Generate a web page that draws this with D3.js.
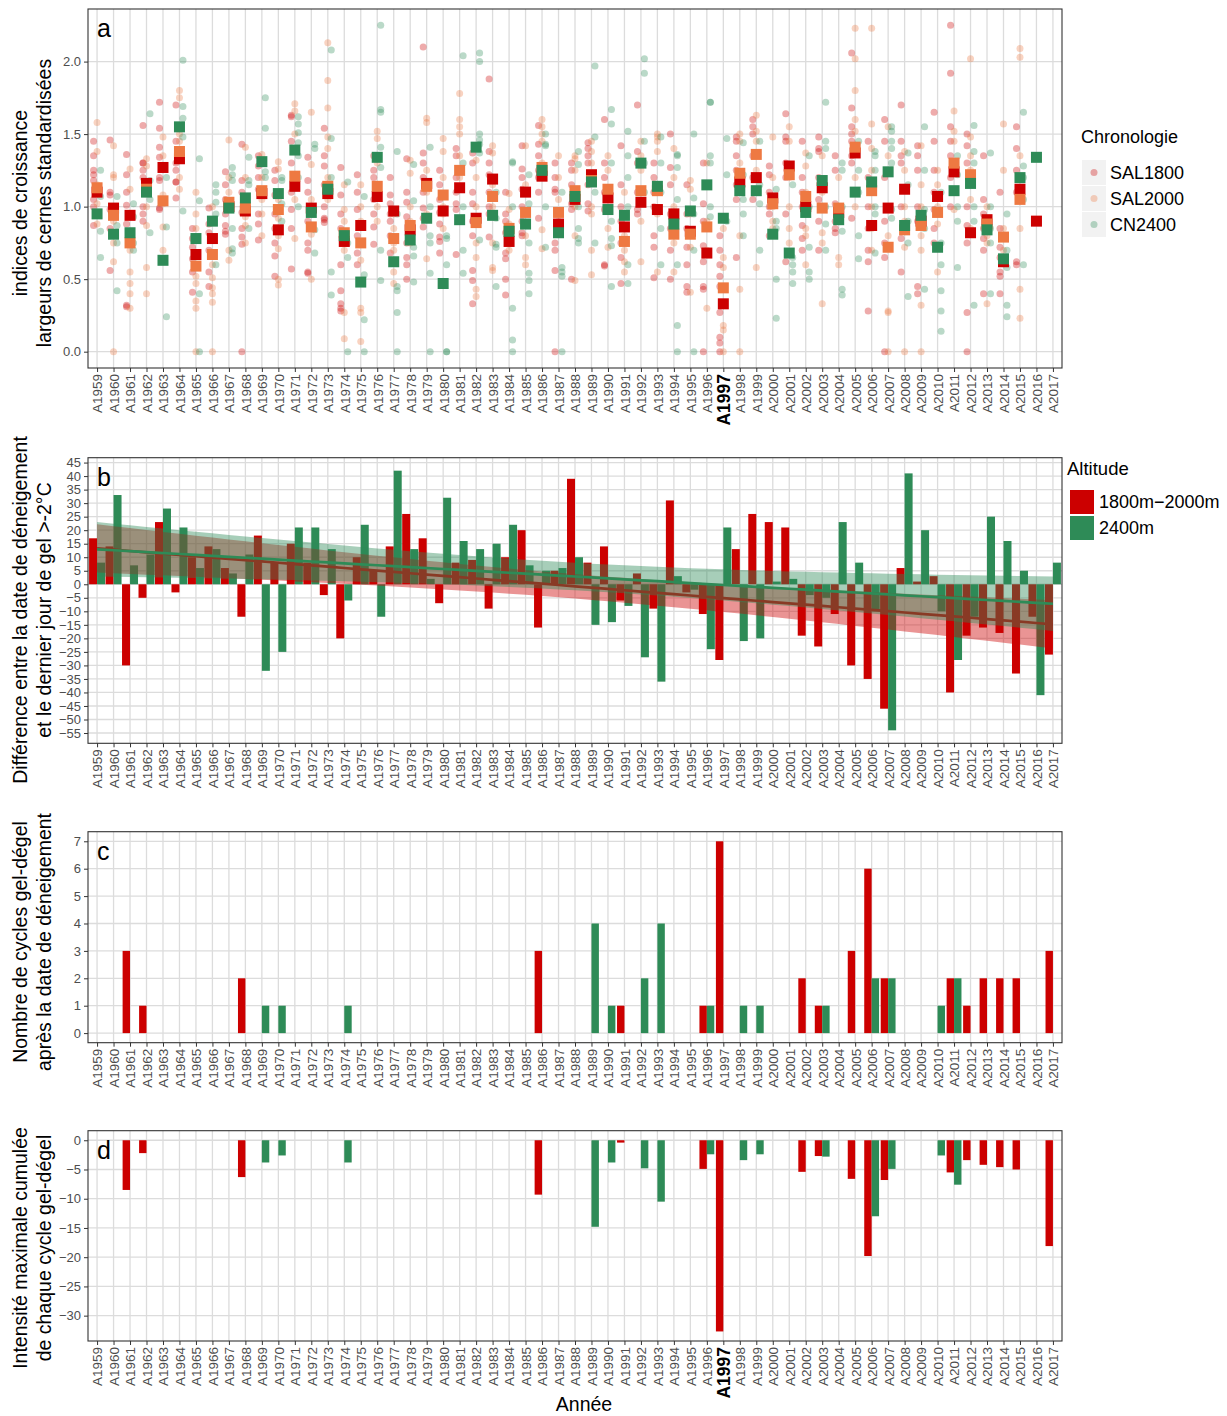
<!DOCTYPE html>
<html>
<head>
<meta charset="utf-8">
<script src="https://cdn.jsdelivr.net/npm/d3@7"></script>
<style>
  body { margin: 0; background: #fff; }
  svg { display: block; }
</style>
</head>
<body>
<svg id="fig" width="1227" height="1416"></svg>
<script>
// ---------------------------------------------------------------------------
// Data
// ---------------------------------------------------------------------------
const years = [1959,1960,1961,1962,1963,1964,1965,1966,1967,1968,
               1969,1970,1971,1972,1973,1974,1975,1976,1977,1978,
               1979,1980,1981,1982,1983,1984,1985,1986,1987,1988,
               1989,1990,1991,1992,1993,1994,1995,1996,1997,1998,
               1999,2000,2001,2002,2003,2004,2005,2006,2007,2008,
               2009,2010,2011,2012,2013,2014,2015,2016,2017];

const chronologies = ["SAL1800", "SAL2000", "CN2400"];
const altitudes = ["1800m\u22122000m", "2400m"];

// (a) mean standardised ring-width index per chronology (null = no data)
const meanSAL1800 = [1.10,0.99,0.94,1.16,1.27,1.33,0.67,0.78,1.00,0.97,
                     1.09,0.84,1.14,0.99,1.09,0.76,0.87,1.07,0.97,0.84,
                     1.16,0.97,1.13,0.92,1.19,0.76,1.10,1.21,0.88,1.05,
                     1.22,1.06,0.86,1.03,0.98,0.95,0.83,0.68,0.33,1.17,
                     1.20,1.06,1.28,1.00,1.13,0.96,1.37,0.87,0.99,1.12,
                     0.90,1.07,1.24,0.82,0.91,0.62,1.12,0.90,null];
const meanSAL2000 = [1.13,0.94,0.75,1.12,1.04,1.38,0.59,0.67,1.03,0.99,
                     1.11,0.98,1.21,0.86,1.14,0.82,0.75,1.14,0.78,0.87,
                     1.14,1.08,1.25,0.89,1.07,0.85,0.96,1.27,0.96,1.11,
                     1.18,1.12,0.76,1.11,1.11,0.81,0.81,0.86,0.44,1.23,
                     1.36,1.02,1.22,1.07,0.99,0.99,1.41,1.11,0.72,0.84,
                     0.87,0.96,1.30,1.22,0.88,0.79,1.05,null,null];
const meanCN2400  = [0.95,0.81,0.82,1.10,0.63,1.55,0.78,0.90,0.99,1.06,
                     1.31,1.09,1.39,0.96,1.12,0.80,0.48,1.34,0.62,0.77,
                     0.92,0.47,0.91,1.41,0.94,0.83,0.88,1.25,0.82,1.07,
                     1.17,0.98,0.94,1.30,1.14,0.88,0.97,1.15,0.92,1.11,
                     1.11,0.81,0.68,0.96,1.18,0.91,1.10,1.17,1.24,0.87,
                     0.94,0.72,1.11,1.16,0.84,0.64,1.20,1.34,null];

// (a) individual tree indices, x100, one "|" group per year
const treesSAL1800 = "145 135 125 122 118 105 100 87|146 110 108 98 85 56|136 122 110 101 88 32 31|156 130 130 125 120 100 95 90|172 154 141 134 120 118 99 98|170 145 130 125 117 117 106|85 78 72 64 55 41|99 88 82 70 55 45|124 115 105 95 87 83 81|143 118 110 96 85 79 74 0|135 128 120 112 95 88 77|125 118 108 95 85 75 66 52|163 162 145 130 110 98 85 57|134 118 110 90 75 70 55 54|154 135 128 115 100 92 91 89|127 108 95 85 60 42 33 30 28|122 110 98 80 68 60|135 125 120 105 95 86 74|120 108 102 95 90 80 68|133 110 103 93 75 65 60 50|210 137 130 120 110 99 92 86|125 115 105 96 88 79 76 68|140 135 120 110 102 98 67|137 130 110 102 90 80 56 49 33|188 138 130 122 110 100 95 79|110 95 90 82 68 64 50 39|142 126 120 112 100 90 82 80|156 143 135 125 120 110 92|130 120 112 110 75 70 56 0|130 125 115 102 98 50|144 140 135 130 115 102 97|160 130 120 110 98 60 59|142 115 100 90 75 65 47|170 138 130 110 98 95|130 120 110 100 80 72 51|150 127 115 95 85 70 50|115 95 85 72 60 45 41|130 102 90 73 62 45 43 0|80 70 60 52 45 27 10 6 0|148 145 135 125 115 105 65|160 155 150 135 120 105|128 122 110 100 95 80|164 148 145 130 120 95 62|145 120 110 100 87 78 70|148 140 138 120 105 90 70|135 125 102 90 85 82|206 168 155 150 145 135 130 92|145 120 100 85 70 62 28|160 145 120 90 75 65 0|170 145 135 130 100 78 55|142 135 125 100 90 45 40|165 145 125 110 98 85 75|225 192 155 145 135 120 100|150 142 130 100 87 75 27 0|135 105 95 85 78 70 40|110 85 72 65 55 52 40|155 140 125 110 62 60||";
const treesSAL2000 = "158 138 115 102 95 88|142 122 120 90 75 62 0|126 112 70 55 47 40 30|133 128 110 100 87 58 40|148 135 108 102 86 70|180 175 150 145 120 112|110 95 85 52 47 35 30 0|100 90 60 51 44 40 34 0|146 120 110 98 70 63|141 120 105 93 87 75|136 130 120 105 95 80|131 126 105 92 80 71 50 46|171 166 150 122 105 78|165 129 105 98 81 50|213 187 168 148 140 120 105|115 98 90 80 70 27 9|115 100 90 63 30 27 7|152 147 130 115 100 90|95 85 75 70 55 47|132 123 100 90 80 75|161 158 125 115 110 95 64|147 138 120 100 95 85|178 160 155 150 135 120|132 120 100 75 65 43 38|142 137 115 100 75 58 56|109 98 88 80 70|142 115 95 80 65 60|160 155 150 145 130 120 84 71|135 120 105 90|135 133 125 100 80 49|145 138 130 100 95 70 53|135 125 110 85 72|110 95 80 70 62 55|145 135 125 90 62|150 148 145 138 115 95 55|140 120 100 85 75 55|118 112 95 80 72 41|130 115 90 70 30|85 65 58 43 18 15 0|150 145 130 120 80 43 0|163 152 145 125 58|148 120 100 90 85|155 145 120 100 85 75|137 128 110 85 80 60|135 110 100 82 75 33|120 100 95 65 60|223 202 180 160 152 120 100|223 157 140 125 100 85 70|155 135 100 80 28 27 0|138 125 100 90 72 0|142 115 100 80 70 32 0|125 115 100 88 55|166 152 145 130 110 98|202 148 135 125 105 85|100 90 80 75 33|157 125 85 78 70|209 203 135 120 85 43 23||";
const treesCN2400 = "125 107 83 65|107 87 75 42|102 93 75 70|164 118 105 82|120 86 24|201 169 161 148 97|133 104 40 0|115 110 103 95 60|127 122 118 85 71 68|134 118 115 85|175 154 124 120|120 118 102 90|162 157 151 144 135 120 100|143 140 84 68|208 147 120 55 39|117 75 65 0|107 53 22 0|225 167 165 141 127 70 49|138 95 45 42 27 0|129 104 72 66 48|141 100 80 75 54 0|80 78 60 0 0|204 130 100 70 54|206 200 150 146 143 137 77|110 92 74 72 45|131 130 100 30 8 0|122 102 75 54 49 40|150 143 142 100 72|110 58 55 52 0|138 129 100 85 78 75|197 148 110 75|167 157 130 90 78 73 45|152 135 120 100 60 47|202 192 145 130 110|148 130 110 85 60|136 135 127 105 60 18 0|150 106 95 70 0|172 172 135 130 100 93|147 122 90|144 122 105 95 80|145 115 102 70|112 90 85 50 23|115 65 60 55 47|135 100 72 55 50|172 145 140 100 88 70|130 125 100 83 43 39|145 125 110 80 64|138 135 125 100 95 68|155 152 145 140 130 98 92|137 115 90 75 38|155 125 98 85 43|110 75 60 42 28 14|135 122 100 90 58|156 138 130 100 90 32|137 100 85 75 40|95 70 58 32 24|165 128 120 105 60||";

// (b) days between snow-melt date and last frost day (> -2 °C)
const diff1800 = [17,14,-30,-5,23,-3,10,14,6,-12,
                  18,8,15,8,-4,-20,10,5,14,26,
                  17,-7,8,9,-9,10,20,-16,5,39,
                  8,14,-6,4,-9,31,-3,-11,-28,13,
                  26,23,21,-19,-23,-11,-30,-35,-46,6,
                  1,3,-40,-19,-16,-18,-33,-12,-26];
const diff2400 = [8,33,7,11,28,21,6,13,4,11,
                  -32,-25,21,21,13,-6,22,-12,42,13,
                  2,32,16,13,15,22,7,5,6,10,
                  -15,-14,-8,-27,-36,3,-2,-24,21,-21,
                  -20,1,2,-4,-5,23,8,-10,-54,41,
                  20,-10,-28,-12,25,16,5,-41,8];

// (c) number of freeze-thaw cycles after snow melt
const cycles1800 = [0,0,3,1,0,0,0,0,0,2, 0,0,0,0,0,0,0,0,0,0,
                    0,0,0,0,0,0,0,3,0,0, 0,0,1,0,0,0,0,1,7,0,
                    0,0,0,2,1,0,3,6,2,0, 0,0,2,1,2,2,2,0,3];
const cycles2400 = [0,0,0,0,0,0,0,0,0,0, 1,1,0,0,0,1,0,0,0,0,
                    0,0,0,0,0,0,0,0,0,0, 4,1,0,2,4,0,0,1,0,1,
                    1,0,0,0,1,0,0,2,2,0, 0,1,2,0,0,0,0,0,0];

// (d) maximum cumulated intensity of the freeze-thaw cycles
const intensity1800 = [0,0,-8.5,-2.2,0,0,0,0,0,-6.3, 0,0,0,0,0,0,0,0,0,0,
                       0,0,0,0,0,0,0,-9.3,0,0, 0,0,-0.4,0,0,0,0,-4.9,-32.7,0,
                       0,0,0,-5.4,-2.7,0,-6.6,-19.8,-6.8,0, 0,0,-5.5,-3.4,-4.2,-4.6,-5.0,0,-18.1];
const intensity2400 = [0,0,0,0,0,0,0,0,0,0, -3.8,-2.6,0,0,0,-3.8,0,0,0,0,
                       0,0,0,0,0,0,0,0,0,0, -14.8,-3.8,0,-4.8,-10.5,0,0,-2.4,0,-3.4,
                       -2.4,0,0,0,-2.8,0,0,-13.0,-4.9,0, 0,-2.6,-7.6,0,0,0,0,0,0];

// ---------------------------------------------------------------------------
// Layout and styling
// ---------------------------------------------------------------------------
const FONT = '"Liberation Sans", Arial, sans-serif';
const RED = "#cc0000", ORANGE = "#ee7942", GREEN = "#2e8b57";
const GRID = "#dcdcdc";
const L = 88, R = 1062;
const P = {
  a: { top: 9,     bottom: 368 },
  b: { top: 457.7, bottom: 743.3 },
  c: { top: 831.7, bottom: 1042.7 },
  d: { top: 1130.7, bottom: 1341 }
};

const svg = d3.select("#fig").attr("font-family", FONT);
const x = d3.scalePoint().domain(years).range([L, R]).padding(0.55);
const step = x.step();

const parseTrees = s => s.split("|").map(t => t.trim() ? t.trim().split(/\s+/).map(v => +v / 100) : []);

// ggplot-like continuous range expansion (5 % each side)
function expanded(lo, hi) {
  const pad = (hi - lo) * 0.05;
  return [lo - pad, hi + pad];
}

function grid(p, y, ticks) {
  const g = svg.append("g");
  g.selectAll("line.v").data(years).join("line")
    .attr("x1", d => x(d)).attr("x2", d => x(d))
    .attr("y1", p.top).attr("y2", p.bottom)
    .attr("stroke", GRID).attr("stroke-width", 1.3);
  g.selectAll("line.h").data(ticks).join("line")
    .attr("x1", L).attr("x2", R)
    .attr("y1", d => y(d)).attr("y2", d => y(d))
    .attr("stroke", GRID).attr("stroke-width", 1.3);
}

function axes(p, y, ticks, fmt, tag, boldYear) {
  svg.append("rect")
    .attr("x", L).attr("y", p.top).attr("width", R - L).attr("height", p.bottom - p.top)
    .attr("fill", "none").attr("stroke", "#333").attr("stroke-width", 1.1);

  svg.append("g").attr("transform", `translate(${L},0)`)
    .call(d3.axisLeft(y).tickValues(ticks).tickFormat(fmt).tickSize(4).tickPadding(3))
    .call(g => g.select(".domain").remove())
    .call(g => g.selectAll("line").attr("stroke", "#333"))
    .call(g => g.selectAll("text").attr("fill", "#4d4d4d"))
    .attr("font-family", FONT).attr("font-size", 13);

  const xa = svg.append("g").attr("transform", `translate(0,${p.bottom})`)
    .call(d3.axisBottom(x).tickSize(4).tickFormat(d => "A" + d))
    .call(g => g.select(".domain").remove())
    .call(g => g.selectAll("line").attr("stroke", "#333"))
    .attr("font-family", FONT).attr("font-size", 13.5);
  xa.selectAll("text")
    .attr("transform", "rotate(-90)")
    .attr("text-anchor", "end")
    .attr("x", -6).attr("y", 0).attr("dy", "0.36em")
    .attr("fill", "#4d4d4d");
  if (boldYear) {
    xa.selectAll(".tick").filter(d => d === boldYear).select("text")
      .attr("fill", "#000").attr("font-weight", "bold").attr("font-size", 17.5);
  }

  svg.append("text").attr("x", 97).attr("y", p.top + 28)
    .attr("font-size", 25).attr("fill", "#000").text(tag);
}

function yTitle(lines, cy) {
  [27, 51].forEach((bx, i) => {
    svg.append("text")
      .attr("transform", `translate(${bx},${cy}) rotate(-90)`)
      .attr("text-anchor", "middle")
      .attr("font-size", 19.5).attr("fill", "#000")
      .text(lines[i]);
  });
}

// ---------------------------------------------------------------------------
// (a) growth indices
// ---------------------------------------------------------------------------
{
  const p = P.a;
  const y = d3.scaleLinear().domain(expanded(0, 2.25)).range([p.bottom, p.top]);
  const ticks = [0, 0.5, 1, 1.5, 2];
  grid(p, y, ticks);

  const series = [
    { name: chronologies[0], color: RED,    trees: parseTrees(treesSAL1800), mean: meanSAL1800, dx: -3.5 },
    { name: chronologies[1], color: ORANGE, trees: parseTrees(treesSAL2000), mean: meanSAL2000, dx: 0 },
    { name: chronologies[2], color: GREEN,  trees: parseTrees(treesCN2400),  mean: meanCN2400,  dx: 3.5 }
  ];

  series.forEach(s => {
    const pts = [];
    s.trees.forEach((vals, i) => vals.forEach(v => pts.push({ yr: years[i], v })));
    svg.append("g").selectAll("circle").data(pts).join("circle")
      .attr("cx", d => x(d.yr) + s.dx).attr("cy", d => y(d.v)).attr("r", 3.5)
      .attr("fill", s.color).attr("fill-opacity", 0.33);
  });

  const sq = 11;
  series.forEach(s => {
    const m = years.map((yr, i) => ({ yr, v: s.mean[i] })).filter(d => d.v != null);
    svg.append("g").selectAll("rect").data(m).join("rect")
      .attr("x", d => x(d.yr) - sq / 2).attr("y", d => y(d.v) - sq / 2)
      .attr("width", sq).attr("height", sq).attr("fill", s.color);
  });

  axes(p, y, ticks, d3.format(".1f"), "a", 1997);
  yTitle(["indices de croissance", "largeurs de cernes standardisées"], 203);

  // legend
  const lg = svg.append("g");
  lg.append("text").attr("x", 1081).attr("y", 143).attr("font-size", 18).text("Chronologie");
  series.forEach((s, i) => {
    const ky = 160 + i * 26;
    lg.append("rect").attr("x", 1082).attr("y", ky).attr("width", 24).attr("height", 25).attr("fill", "#f2f2f2");
    lg.append("circle").attr("cx", 1094).attr("cy", ky + 12.5).attr("r", 3.5)
      .attr("fill", s.color).attr("fill-opacity", 0.33);
    lg.append("text").attr("x", 1110).attr("y", ky + 12.5).attr("dy", "0.36em")
      .attr("font-size", 18).text(s.name);
  });
}

// ---------------------------------------------------------------------------
// (b) snow-melt vs last frost difference, with linear trends
// ---------------------------------------------------------------------------
function linearBand(vals) {
  const pts = vals.map((v, i) => ({ i, v }));
  const n = pts.length;
  const mx = d3.mean(pts, d => d.i), my = d3.mean(pts, d => d.v);
  const sxx = d3.sum(pts, d => (d.i - mx) ** 2);
  const sxy = d3.sum(pts, d => (d.i - mx) * (d.v - my));
  const b = sxy / sxx, a = my - b * mx;
  const sse = d3.sum(pts, d => (d.v - (a + b * d.i)) ** 2);
  const s = Math.sqrt(sse / (n - 2));
  const t = 2.0025; // Student t, 0.975 quantile, 57 df
  return pts.map(d => {
    const fit = a + b * d.i;
    const se = s * Math.sqrt(1 / n + (d.i - mx) ** 2 / sxx);
    return { yr: years[d.i], fit, lo: fit - t * se, hi: fit + t * se };
  });
}

{
  const p = P.b;
  const all = diff1800.concat(diff2400);
  const y = d3.scaleLinear().domain(expanded(d3.min(all), d3.max(all))).range([p.bottom, p.top]);
  const ticks = d3.range(-55, 46, 5);
  grid(p, y, ticks);

  const w = step * 0.485;
  const groups = [
    { vals: diff1800, color: RED, off: -w },
    { vals: diff2400, color: GREEN, off: 0 }
  ];
  groups.forEach(gp => {
    svg.append("g").selectAll("rect").data(gp.vals.map((v, i) => ({ yr: years[i], v }))).join("rect")
      .attr("x", d => x(d.yr) + gp.off).attr("width", w)
      .attr("y", d => y(Math.max(0, d.v))).attr("height", d => Math.abs(y(d.v) - y(0)))
      .attr("fill", gp.color);
  });

  groups.forEach(gp => {
    const band = linearBand(gp.vals);
    svg.append("path").datum(band)
      .attr("d", d3.area().x(d => x(d.yr)).y0(d => y(d.lo)).y1(d => y(d.hi)))
      .attr("fill", gp.color).attr("fill-opacity", 0.42);
    svg.append("path").datum(band)
      .attr("d", d3.line().x(d => x(d.yr)).y(d => y(d.fit)))
      .attr("fill", "none").attr("stroke", gp.color).attr("stroke-width", 2.7);
  });

  axes(p, y, ticks, d3.format("d"), "b", null);
  yTitle(["Différence entre la date de déneigement", "et le dernier jour de gel >-2°C"], 610);

  const lg = svg.append("g");
  lg.append("text").attr("x", 1067).attr("y", 475).attr("font-size", 18.5).text("Altitude");
  [RED, GREEN].forEach((c, i) => {
    const ky = 490 + i * 26;
    lg.append("rect").attr("x", 1070).attr("y", ky).attr("width", 24).attr("height", 24).attr("fill", c);
    lg.append("text").attr("x", 1099).attr("y", ky + 12).attr("dy", "0.36em")
      .attr("font-size", 18).text(altitudes[i]);
  });
}

// ---------------------------------------------------------------------------
// (c) and (d) dodged bar panels
// ---------------------------------------------------------------------------
function dodgedPanel(p, redVals, greenVals, y, ticks, tag, boldYear) {
  grid(p, y, ticks);
  const w = step * 0.45;
  [[redVals, RED, -w], [greenVals, GREEN, 0]].forEach(([vals, color, off]) => {
    const data = vals.map((v, i) => ({ yr: years[i], v })).filter(d => d.v !== 0);
    svg.append("g").selectAll("rect").data(data).join("rect")
      .attr("x", d => x(d.yr) + off).attr("width", w)
      .attr("y", d => y(Math.max(0, d.v))).attr("height", d => Math.abs(y(d.v) - y(0)))
      .attr("fill", color);
  });
  axes(p, y, ticks, d3.format("d"), tag, boldYear);
}

{
  const p = P.c;
  const y = d3.scaleLinear().domain(expanded(0, d3.max(cycles1800.concat(cycles2400)))).range([p.bottom, p.top]);
  dodgedPanel(p, cycles1800, cycles2400, y, d3.range(0, 8), "c", null);
  yTitle(["Nombre de cycles gel-dégel", "après la date de déneigement"], 942);
}

{
  const p = P.d;
  const y = d3.scaleLinear().domain(expanded(d3.min(intensity1800.concat(intensity2400)), 0)).range([p.bottom, p.top]);
  dodgedPanel(p, intensity1800, intensity2400, y, d3.range(-30, 1, 5), "d", 1997);
  yTitle(["Intensité maximale cumulée", "de chaque cycle gel-dégel"], 1248);

  svg.append("text").attr("x", 584).attr("y", 1411).attr("text-anchor", "middle")
    .attr("font-size", 19.5).attr("fill", "#000").text("Année");
}
</script>
</body>
</html>
